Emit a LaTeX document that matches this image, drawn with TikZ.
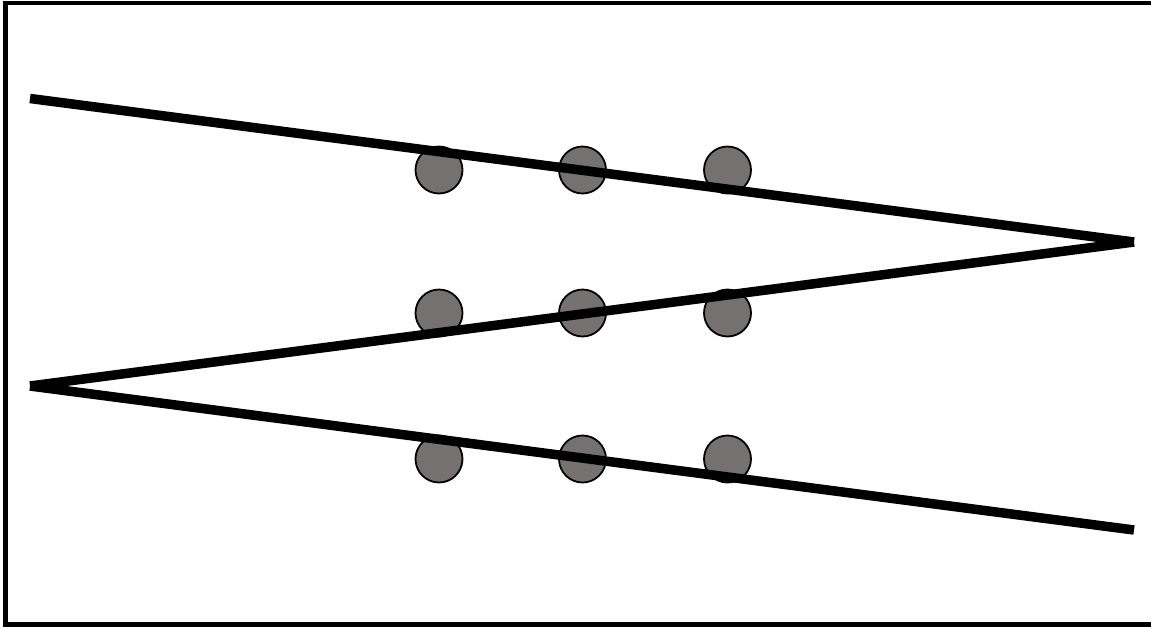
\documentclass[tikz,border=0pt]{standalone}
\definecolor{dotgray}{RGB}{118,113,113}
\tikzset{
  dot/.style={circle,draw=black,line width=1.8pt,fill=dotgray,minimum size=47pt,inner sep=0pt},
  zig/.style={line width=9.5pt,line cap=butt,black},
  frame/.style={line width=4.5pt,black}
}
\begin{document}
\begin{tikzpicture}[x=1pt,y=-1pt]
\useasboundingbox (0,0) rectangle (1151,627);
\draw[frame] (5.5,3) rectangle (1156,624.5);
% dots
\foreach \i/\x in {1/439,2/582.5,3/727.5}{
  \node[dot] (a\i) at (\x,170) {};
  \node[dot] (b\i) at (\x,313) {};
  \node[dot] (c\i) at (\x,459) {};
}
\coordinate (p1) at (30,98.5);
\coordinate (p2) at (1134,242);
\coordinate (p3) at (30,386);
\coordinate (p4) at (1134,530);
\draw[zig] (p1) -- (p2);
\draw[zig] (p2) -- (p3);
\draw[zig] (p3) -- (p4);
\end{tikzpicture}
\end{document}
